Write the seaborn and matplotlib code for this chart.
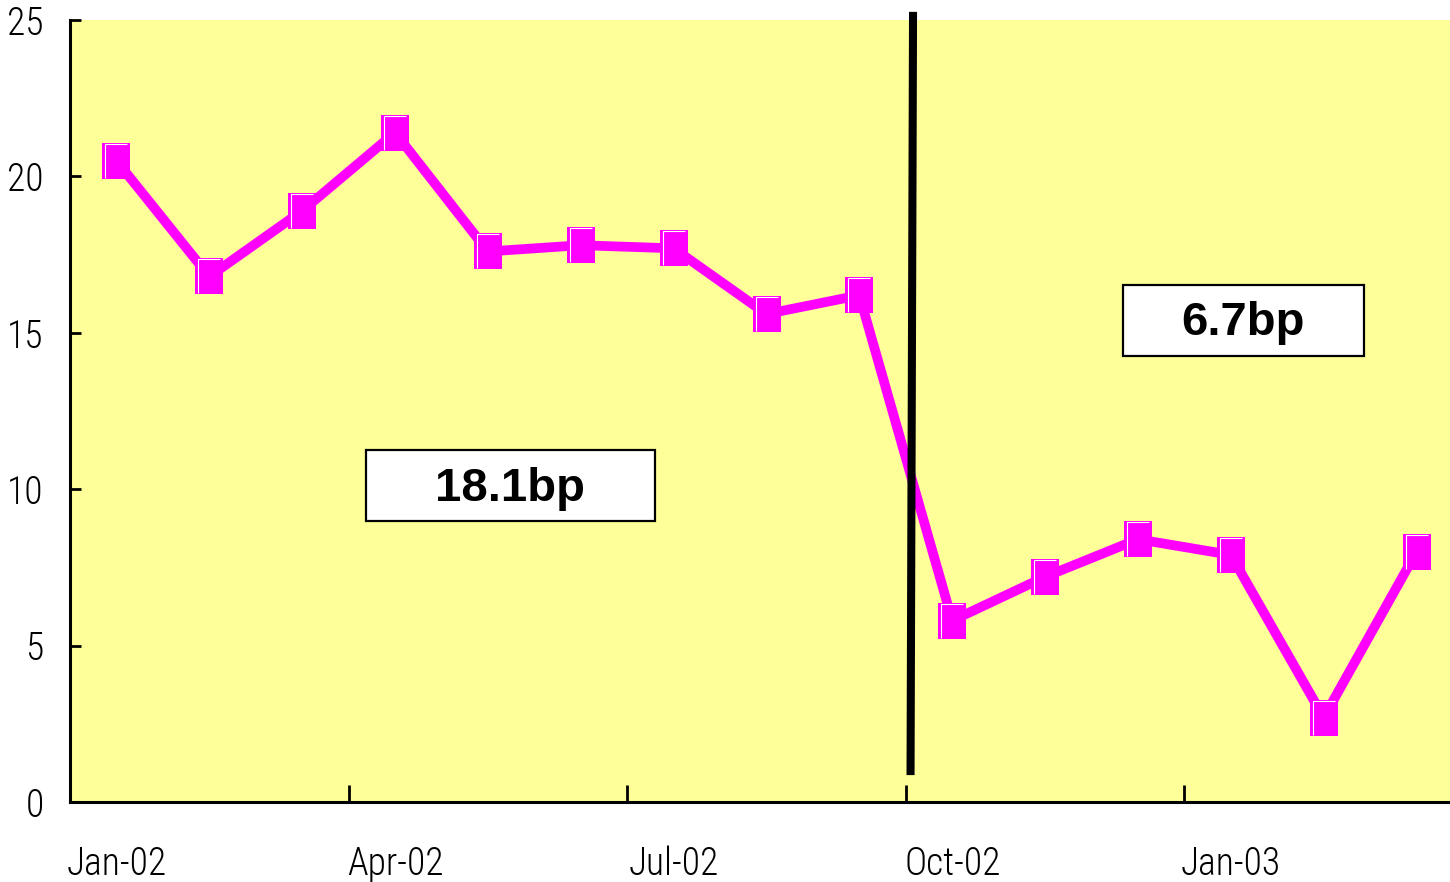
import matplotlib
matplotlib.use("Agg")
import matplotlib.pyplot as plt
from matplotlib import font_manager
from matplotlib.patches import Rectangle
import numpy as np
import pandas as pd
import seaborn as sns

# Monthly spread (bp), Jan-02 .. Mar-03
months = ["Jan-02", "Feb-02", "Mar-02", "Apr-02", "May-02", "Jun-02", "Jul-02",
          "Aug-02", "Sep-02", "Oct-02", "Nov-02", "Dec-02", "Jan-03", "Feb-03", "Mar-03"]
spread = [20.5, 16.8, 18.9, 21.4, 17.6, 17.8, 17.7, 15.6, 16.2,
          5.8, 7.2, 8.4, 7.9, 2.7, 8.0]
tick_labels = ["Jan-02", "Apr-02", "Jul-02", "Oct-02", "Jan-03"]
period_labels = ["18.1bp", "6.7bp"]

df = pd.DataFrame({"idx": np.arange(len(months)), "spread": spread})

sns.set_theme(style="white")

# narrow sans for the axis labels, first one that is installed
installed = {f.name for f in font_manager.fontManager.ttflist}
narrow = next((f for f in ["Liberation Sans Narrow", "Roboto Condensed",
                           "Noto Sans CJK KR", "Roboto"] if f in installed), "DejaVu Sans")
plt.rcParams["font.family"] = [narrow, "DejaVu Sans"]
plt.rcParams["font.weight"] = "light"
plt.rcParams["text.color"] = "black"
plt.rcParams["xtick.color"] = "black"
plt.rcParams["ytick.color"] = "black"

fig = plt.figure(figsize=(14.5, 8.82), dpi=100)
ax = fig.add_axes([70 / 1450, 80 / 882, 1393 / 1450, 782 / 882])
ax.set_facecolor("#FFFF99")

# tall rectangular marker
rect_marker = [(-0.378, -0.5), (0.378, -0.5), (0.378, 0.5), (-0.378, 0.5), (-0.378, -0.5)]
sns.lineplot(data=df, x="idx", y="spread", ax=ax, color="#FF00FF", linewidth=7,
             marker=rect_marker, markersize=26.6, markerfacecolor="#FF00FF",
             markeredgecolor="#FF00FF", markeredgewidth=0, zorder=3)

# thin white highlight inside each marker (left and top inner edges)
hl_marker = [(-0.30, -0.44), (-0.30, 0.44), (0.30, 0.44)]
ax.plot(df["idx"], df["spread"], linestyle="none", marker=hl_marker, markersize=24,
        markerfacecolor="none", markeredgecolor="white", markeredgewidth=0.8,
        zorder=4, fillstyle="none")

# regime break
ax.plot([8.578, 8.551], [25.26, 0.86], color="black", linewidth=5.8,
        solid_capstyle="butt", clip_on=False, zorder=5)

# period average boxes
boxes = [((2.688, 8.98), 3.112, 2.27, (4.24, 10.0)),
         ((10.84, 14.26), 2.595, 2.27, (12.13, 15.31))]
for (xy, w, h, txy), lab in zip(boxes, period_labels):
    ax.add_patch(Rectangle(xy, w, h, facecolor="white", edgecolor="black",
                           linewidth=1.6, zorder=6))
    ax.text(txy[0], txy[1], lab, ha="center", va="center", fontsize=34,
            fontweight="bold", color="black",
            family=["Liberation Sans", "DejaVu Sans"], zorder=7)

ax.set_xlim(-0.5, 14.5)
ax.set_ylim(0, 25)
ax.set_yticks([0, 5, 10, 15, 20, 25])
ax.set_yticklabels(["0", "5", "10", "15", "20", "25"])
ax.set_xticks([0, 3, 6, 9, 12])
ax.set_xticklabels(tick_labels)
ax.set_xticks([2.5, 5.5, 8.5, 11.5], minor=True)
ax.tick_params(axis="x", which="major", length=0, pad=31, labelsize=27)
ax.tick_params(axis="x", which="minor", direction="in", length=12, width=2,
               color="black", bottom=True)
ax.tick_params(axis="y", direction="in", length=8, width=2, color="black",
               pad=19, labelsize=27, left=True)
ax.set_xlabel("")
ax.set_ylabel("")
for s in ["top", "right"]:
    ax.spines[s].set_visible(False)
for s in ["left", "bottom"]:
    ax.spines[s].set_color("black")
    ax.spines[s].set_linewidth(2.2)

fig.savefig("out.png", dpi=100)
